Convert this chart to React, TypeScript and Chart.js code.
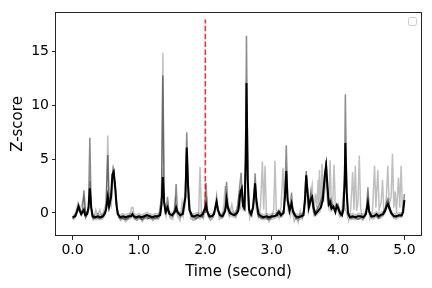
import React, { useEffect, useRef } from "react";
import { Chart, registerables } from "chart.js";

Chart.register(...registerables);

// Mean trace (black)
const meanTimes = [0.00,0.04,0.07,0.09,0.11,0.13,0.15,0.17,0.19,0.22,0.24,0.26,0.28,0.30,0.34,0.38,0.42,0.46,0.49,0.51,0.53,0.55,0.58,0.60,0.62,0.64,0.66,0.68,0.72,0.76,0.80,0.84,0.88,0.90,0.92,0.96,1.00,1.04,1.08,1.12,1.16,1.20,1.24,1.28,1.32,1.34,1.36,1.38,1.40,1.43,1.46,1.50,1.54,1.56,1.58,1.62,1.66,1.70,1.72,1.74,1.76,1.80,1.84,1.88,1.92,1.96,1.99,2.01,2.03,2.06,2.10,2.13,2.15,2.17,2.19,2.22,2.26,2.30,2.32,2.34,2.37,2.40,2.44,2.48,2.50,2.53,2.55,2.57,2.59,2.61,2.62,2.64,2.66,2.69,2.72,2.75,2.77,2.80,2.84,2.88,2.92,2.96,3.00,3.04,3.08,3.11,3.14,3.18,3.20,3.22,3.24,3.27,3.30,3.32,3.36,3.40,3.44,3.48,3.50,3.52,3.54,3.56,3.59,3.61,3.63,3.66,3.70,3.74,3.77,3.80,3.82,3.84,3.86,3.88,3.90,3.93,3.96,3.98,4.00,4.03,4.06,4.08,4.10,4.11,4.13,4.15,4.18,4.22,4.26,4.30,4.34,4.38,4.42,4.45,4.47,4.50,4.54,4.58,4.61,4.64,4.68,4.71,4.73,4.75,4.77,4.80,4.84,4.88,4.92,4.96,4.98,5.00];
const meanValues = [-0.4,-0.3,0.2,0.6,0.2,-0.1,0.1,0.3,-0.2,-0.1,0.5,2.3,0.6,-0.3,-0.4,-0.3,-0.4,-0.3,0.0,0.5,1.5,0.6,1.5,3.6,3.85,2.5,0.8,-0.1,-0.4,-0.3,-0.4,-0.3,-0.3,-0.1,-0.3,-0.4,-0.3,-0.4,-0.3,-0.2,-0.3,-0.4,-0.3,-0.3,-0.2,0.8,3.35,1.0,0.1,0.5,-0.1,-0.2,0.1,0.5,0.1,-0.2,-0.1,1.5,6.1,2.5,0.3,-0.3,-0.3,-0.2,-0.3,-0.1,0.3,0.75,0.1,-0.3,-0.3,-0.1,0.5,1.05,0.3,-0.2,-0.3,0.2,1.3,0.5,0.0,-0.1,-0.2,0.0,0.3,2.0,2.3,0.6,0.4,5.0,12.1,3.0,0.3,-0.1,0.5,2.75,1.2,-0.1,-0.3,-0.4,-0.3,-0.4,-0.3,-0.3,-0.2,0.1,-0.2,0.0,1.5,3.9,1.2,0.2,0.9,0.2,-0.3,-0.4,-0.3,-0.2,1.0,3.5,2.0,0.5,1.3,1.5,0.5,-0.1,0.2,0.5,1.2,3.5,4.4,2.5,0.8,1.0,0.4,0.6,0.1,0.7,0.5,0.0,-0.2,0.3,3.0,6.5,2.0,0.0,-0.4,-0.3,-0.4,-0.3,-0.3,-0.4,-0.1,0.95,0.1,-0.3,-0.3,-0.1,-0.3,-0.2,-0.1,0.2,0.6,0.85,0.5,0.0,-0.3,-0.3,-0.2,-0.2,0.1,1.2];
// Spread around the mean (shaded band), one value per mean point
const meanSpread = [
  0.3,0.3,0.35,0.4,0.35,0.3,0.3,0.35,0.3,0.3,
  0.4,0.8,0.4,0.3,0.3,0.35,0.3,0.3,0.3,0.4,
  0.8,0.4,0.5,0.7,0.7,0.6,0.4,0.3,0.3,0.35,
  0.3,0.35,0.3,0.35,0.3,0.3,0.35,0.3,0.3,0.35,
  0.3,0.3,0.35,0.3,0.3,0.5,1.0,0.5,0.3,0.4,
  0.3,0.3,0.3,0.5,0.3,0.3,0.3,0.5,0.8,0.5,
  0.3,0.3,0.35,0.3,0.35,0.3,0.3,0.5,0.3,0.3,
  0.3,0.3,0.3,0.4,0.3,0.3,0.3,0.4,0.5,0.3,
  0.3,0.3,0.3,0.3,0.35,0.5,0.5,0.35,0.3,0.7,
  1.2,0.6,0.3,0.3,0.4,0.5,0.4,0.3,0.35,0.3,
  0.35,0.3,0.35,0.3,0.3,0.35,0.3,0.3,0.5,0.7,
  0.4,0.3,0.4,0.3,0.3,0.35,0.3,0.3,0.4,0.6,
  0.5,0.35,0.4,0.4,0.35,0.3,0.35,0.4,0.4,0.6,
  0.6,0.5,0.4,0.4,0.35,0.35,0.35,0.4,0.35,0.3,
  0.3,0.35,0.6,0.8,0.5,0.3,0.3,0.35,0.3,0.35,
  0.3,0.35,0.3,0.4,0.3,0.3,0.35,0.3,0.3,0.35,
  0.3,0.3,0.35,0.4,0.35,0.3,0.3,0.35,0.3,0.3,
  0.3,0.4,
];

// Darker gray trace
const darkTimes = [0.00,0.05,0.09,0.12,0.15,0.17,0.20,0.24,0.26,0.28,0.31,0.36,0.40,0.45,0.50,0.53,0.55,0.58,0.61,0.64,0.67,0.70,0.75,0.80,0.85,0.90,0.95,1.00,1.05,1.10,1.15,1.20,1.25,1.30,1.34,1.36,1.38,1.41,1.43,1.45,1.50,1.54,1.56,1.58,1.62,1.66,1.70,1.72,1.74,1.77,1.82,1.87,1.92,1.96,1.99,2.01,2.03,2.07,2.12,2.15,2.17,2.19,2.23,2.27,2.30,2.32,2.34,2.37,2.42,2.46,2.49,2.52,2.54,2.56,2.59,2.61,2.62,2.64,2.66,2.70,2.73,2.75,2.77,2.80,2.85,2.90,2.95,3.00,3.05,3.10,3.14,3.18,3.20,3.22,3.24,3.27,3.30,3.32,3.37,3.42,3.47,3.50,3.52,3.54,3.57,3.59,3.61,3.64,3.68,3.72,3.76,3.80,3.82,3.84,3.86,3.89,3.92,3.96,4.00,4.04,4.08,4.10,4.11,4.13,4.15,4.20,4.25,4.30,4.35,4.40,4.43,4.45,4.47,4.51,4.56,4.61,4.66,4.71,4.73,4.75,4.77,4.81,4.86,4.91,4.96,4.98,5.00];
const darkValues = [-0.5,-0.2,0.8,0.0,0.3,2.1,-0.3,0.5,7.0,0.5,-0.5,-0.4,-0.5,-0.4,0.3,5.4,0.8,1.8,4.0,2.8,0.5,-0.4,-0.5,-0.6,-0.4,-0.2,-0.5,-0.4,-0.6,-0.3,-0.5,-0.4,-0.5,-0.3,1.5,12.8,1.0,0.2,1.5,0.0,-0.3,0.3,2.7,0.2,-0.3,0.0,2.0,7.5,3.0,0.2,-0.4,-0.5,-0.3,-0.4,0.5,2.8,0.2,-0.4,-0.2,0.4,1.5,0.2,-0.3,-0.2,0.5,2.9,0.8,0.1,-0.2,0.0,0.8,2.6,3.75,1.0,0.6,8.0,16.5,3.0,0.0,-0.3,1.0,3.7,1.0,-0.3,-0.5,-0.4,-0.6,-0.4,-0.3,0.2,-0.3,0.3,2.0,6.3,1.5,0.3,1.9,0.0,-0.5,-0.4,-0.3,1.5,3.9,2.2,0.5,1.9,1.0,-0.2,0.3,0.8,1.5,3.0,4.9,2.5,1.0,1.3,0.5,0.3,0.8,-0.2,0.5,4.0,11.05,2.0,-0.2,-0.5,-0.4,-0.6,-0.4,-0.3,0.5,2.4,0.2,-0.4,-0.2,-0.5,-0.2,0.4,1.0,1.3,0.8,-0.1,-0.4,-0.3,-0.3,0.3,1.75];

// Light gray trace
const lightTimes = [0.00,0.04,0.08,0.11,0.14,0.17,0.20,0.24,0.26,0.28,0.31,0.35,0.38,0.41,0.44,0.47,0.51,0.53,0.55,0.58,0.62,0.65,0.68,0.72,0.76,0.80,0.84,0.87,0.89,0.91,0.93,0.97,1.01,1.05,1.09,1.13,1.17,1.21,1.25,1.29,1.32,1.34,1.36,1.38,1.41,1.44,1.47,1.51,1.55,1.58,1.62,1.65,1.67,1.70,1.72,1.74,1.78,1.82,1.86,1.90,1.92,1.94,1.97,2.00,2.02,2.04,2.08,2.12,2.16,2.18,2.21,2.25,2.28,2.30,2.33,2.36,2.40,2.42,2.46,2.49,2.51,2.53,2.55,2.57,2.60,2.62,2.64,2.67,2.71,2.74,2.77,2.80,2.83,2.86,2.88,2.90,2.92,2.96,3.00,3.03,3.05,3.07,3.11,3.14,3.17,3.19,3.22,3.25,3.28,3.31,3.34,3.37,3.40,3.43,3.46,3.49,3.52,3.55,3.58,3.61,3.63,3.66,3.68,3.70,3.71,3.72,3.74,3.76,3.78,3.80,3.82,3.84,3.86,3.88,3.90,3.92,3.94,3.96,3.99,4.02,4.06,4.08,4.10,4.13,4.16,4.19,4.22,4.24,4.26,4.28,4.30,4.32,4.34,4.37,4.41,4.45,4.48,4.52,4.55,4.57,4.60,4.62,4.65,4.67,4.69,4.72,4.75,4.77,4.80,4.82,4.84,4.86,4.88,4.91,4.93,4.95,4.97,5.00];
const lightValues = [-0.6,-0.1,0.9,0.3,0.8,1.5,-0.4,0.2,3.0,0.2,-0.6,0.3,-0.2,0.3,-0.3,0.2,1.0,7.2,1.0,0.6,3.9,2.0,0.0,-0.7,-0.4,-0.8,-0.5,0.0,0.5,0.5,-0.5,-0.7,-0.3,-0.8,-0.4,-0.6,-0.2,-0.7,-0.3,-0.6,-0.2,1.0,14.9,0.8,-0.3,0.8,-0.5,-0.6,1.2,-0.3,-0.7,1.0,-0.2,1.0,5.5,1.5,-0.5,-0.7,-0.6,0.0,4.3,0.2,-0.5,0.3,1.5,-0.3,-0.7,-0.4,0.3,0.8,-0.6,-0.4,0.8,2.5,0.5,-0.3,0.8,0.2,-0.4,0.5,1.8,0.3,2.0,0.3,0.5,8.0,1.0,-0.5,0.5,2.0,0.3,-0.4,0.5,4.8,0.3,4.4,0.0,-0.8,-0.4,0.3,4.85,0.0,-0.5,0.5,4.2,0.8,2.5,0.2,-0.3,0.5,-0.8,-0.4,-0.9,0.2,-0.5,0.5,2.5,0.2,1.5,2.6,0.0,1.8,0.5,3.1,0.8,4.0,0.5,4.55,1.0,2.0,3.5,1.0,0.5,4.9,0.5,1.0,4.5,0.3,0.5,-0.3,0.3,2.0,0.5,0.0,-0.7,0.3,3.8,0.3,4.4,0.2,1.0,5.35,0.5,-0.6,-0.3,1.5,-0.5,0.3,4.4,0.5,4.0,0.3,1.0,3.1,0.0,0.5,4.4,0.8,1.5,5.5,0.5,2.0,0.0,3.3,0.5,4.4,0.5,1.0];

// Stimulus marker
const markerTime = 2.0;
const markerRange = [0, 18];

const xTicks = [0, 1, 2, 3, 4, 5];
const yTicks = [0, 5, 10, 15];

const toPoints = (xs: number[], ys: number[]) => xs.map((x, i) => ({ x, y: ys[i] }));

const framePlugin = {
  id: "frame",
  afterDraw(chart: any) {
    const { ctx, chartArea } = chart;
    ctx.save();
    ctx.strokeStyle = "#262626";
    ctx.lineWidth = 1;
    ctx.strokeRect(
      Math.round(chartArea.left) - 0.5,
      Math.round(chartArea.top) + 0.5,
      Math.round(chartArea.right - chartArea.left) + 1,
      Math.round(chartArea.bottom - chartArea.top) - 1
    );
    // empty legend box
    const w = 8, h = 8;
    const x = chartArea.right - 13;
    const y = chartArea.top + 5;
    ctx.strokeStyle = "#cccccc";
    ctx.fillStyle = "rgba(255,255,255,0.8)";
    ctx.beginPath();
    (ctx as any).roundRect(x + 0.5, y + 0.5, w, h, 2);
    ctx.fill();
    ctx.stroke();
    ctx.restore();
  },
};

export default function App() {
  const ref = useRef<HTMLCanvasElement>(null);
  useEffect(() => {
    if (!ref.current) return;
    const font = "'DejaVu Sans', sans-serif";
    const upper = meanTimes.map((x, i) => ({ x, y: meanValues[i] + meanSpread[i] }));
    const lower = meanTimes.map((x, i) => ({ x, y: meanValues[i] - meanSpread[i] }));
    const chart = new Chart(ref.current, {
      type: "line",
      data: {
        datasets: [
          {
            data: toPoints(meanTimes, meanValues),
            borderColor: "#000000",
            borderWidth: 2,
            pointRadius: 0,
            tension: 0,
            order: 0,
          },
          {
            data: [
              { x: markerTime, y: markerRange[0] },
              { x: markerTime, y: markerRange[1] },
            ],
            borderColor: "rgba(255,0,0,0.8)",
            borderWidth: 1.6,
            borderDash: [5.5, 2.4],
            pointRadius: 0,
            order: 1,
          },
          {
            data: lower,
            borderWidth: 0,
            borderColor: "rgba(0,0,0,0)",
            pointRadius: 0,
            tension: 0,
            fill: false,
            order: 2,
          },
          {
            data: upper,
            borderWidth: 0,
            borderColor: "rgba(0,0,0,0)",
            backgroundColor: "rgba(0,0,0,0.22)",
            pointRadius: 0,
            tension: 0,
            fill: "-1",
            order: 2,
          },
          {
            data: toPoints(darkTimes, darkValues),
            borderColor: "rgba(0,0,0,0.45)",
            borderWidth: 1.5,
            pointRadius: 0,
            tension: 0,
            order: 3,
          },
          {
            data: toPoints(lightTimes, lightValues),
            borderColor: "rgba(0,0,0,0.25)",
            borderWidth: 1.5,
            pointRadius: 0,
            tension: 0,
            order: 4,
          },
        ],
      },
      options: {
        animation: false,
        responsive: false,
        maintainAspectRatio: false,
        layout: { padding: { top: 12, right: 11, left: 0, bottom: 0 } },
        plugins: { legend: { display: false }, tooltip: { enabled: false }, filler: { propagate: false } },
        scales: {
          x: {
            type: "linear",
            min: -0.25,
            max: 5.25,
            afterBuildTicks: (s: any) => {
              s.ticks = xTicks.map((v) => ({ value: v }));
            },
            afterFit: (s: any) => {
              s.height = 52;
            },
            ticks: {
              font: { family: font, size: 14 },
              color: "#000",
              padding: 2,
              maxRotation: 0,
              callback: (v: any) => Number(v).toFixed(1),
            },
            grid: { display: true, drawOnChartArea: false, drawTicks: true, tickLength: 4, color: "#262626" },
            border: { display: false },
            title: {
              display: true,
              text: "Time (second)",
              font: { family: font, size: 15 },
              color: "#000",
              padding: { top: 0, bottom: 7 },
            },
          },
          y: {
            type: "linear",
            min: -2.14,
            max: 18.7,
            afterBuildTicks: (s: any) => {
              s.ticks = yTicks.map((v) => ({ value: v }));
            },
            afterFit: (s: any) => {
              s.width = 56;
            },
            ticks: {
              font: { family: font, size: 14 },
              color: "#000",
              padding: 3,
              callback: (v: any) => String(v),
            },
            grid: { display: true, drawOnChartArea: false, drawTicks: true, tickLength: 4, color: "#262626" },
            border: { display: false },
            title: {
              display: true,
              text: "Z-score",
              font: { family: font, size: 15 },
              color: "#000",
              padding: { top: 9, bottom: 0 },
            },
          },
        },
      },
      plugins: [framePlugin],
    });
    return () => chart.destroy();
  }, []);
  return (
    <div style={{ position: "absolute", left: 0, top: 0, width: 432, height: 288, background: "#fff" }}>
      <canvas ref={ref} width={432} height={288} style={{ width: 432, height: 288 }} />
    </div>
  );
}
